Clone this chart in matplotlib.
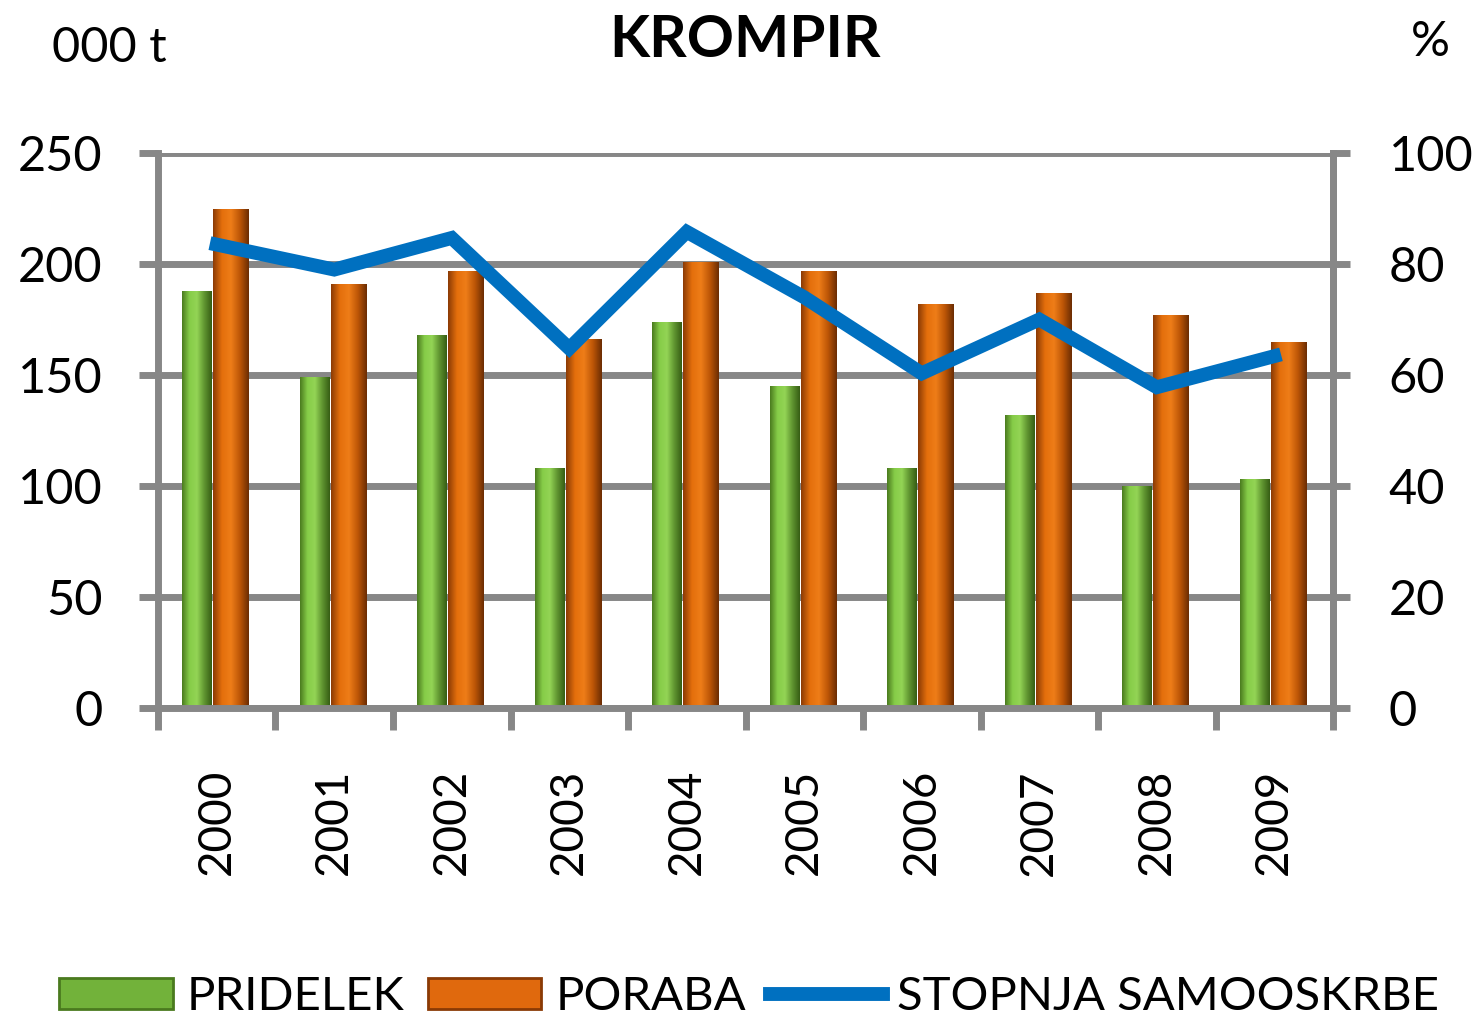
import numpy as np
import matplotlib
matplotlib.use("Agg")
import matplotlib.pyplot as plt
from matplotlib.colors import LinearSegmentedColormap
from matplotlib.patches import Patch
from matplotlib.lines import Line2D

plt.rcParams['font.family'] = ['Lato', 'DejaVu Sans']

years = ['2000', '2001', '2002', '2003', '2004', '2005', '2006', '2007', '2008', '2009']
pridelek = [188, 149, 168, 108, 174, 145, 108, 132, 100, 103]
poraba = [225, 191, 197, 166, 201, 197, 182, 187, 177, 165]
stopnja = [83.5, 79, 84.7, 64.8, 85.8, 74, 60.3, 70, 57.8, 63.4]

GRAY = '#878787'
BLUE = '#0070c0'

fig = plt.figure(figsize=(14.78, 10.21), dpi=100)
ax = fig.add_axes([0.1069, 0.3066, 0.7950, 0.5435])

x = np.arange(len(years))
green_cmap = LinearSegmentedColormap.from_list('g', ['#4a7a1e', '#86cc48', '#93d455', '#5f9430', '#365d14'])
orange_cmap = LinearSegmentedColormap.from_list('o', ['#8a3a05', '#e46f0c', '#ee7d18', '#bd5607', '#6a2c03'])
grad = np.linspace(0, 1, 256).reshape(1, -1)

bars_g = ax.bar(x - 0.17, pridelek, width=0.25, color='#72b23a', zorder=2)
bars_o = ax.bar(x + 0.12, poraba, width=0.30, color='#d9650c', zorder=2)
for bars, cmap in ((bars_g, green_cmap), (bars_o, orange_cmap)):
    for b in bars:
        x0, y0 = b.get_x(), b.get_y()
        w, h = b.get_width(), b.get_height()
        im = ax.imshow(grad, cmap=cmap, aspect='auto', extent=(x0, x0 + w, y0, y0 + h), zorder=2.5)
        im.set_clip_path(b)

ax.set_xlim(-0.5, len(years) - 0.5)
ax.set_ylim(0, 250)
ax.set_yticks(np.arange(0, 251, 50))
ax.set_axisbelow(True)
ax.grid(axis='y', color=GRAY, linewidth=5, zorder=0)
ax.set_xticks(x)
ax.set_xticklabels(years, rotation=90, va='top', ha='center', fontsize=33)
ax.set_xticks(np.arange(-0.5, len(years), 1), minor=True)
ax.tick_params(axis='x', which='major', length=0, pad=44)
ax.tick_params(axis='x', which='minor', length=16, width=5, color=GRAY, direction='out')
ax.tick_params(axis='y', length=14, width=5, color=GRAY, pad=26, labelsize=35)
for s in ['left', 'right', 'bottom']:
    ax.spines[s].set_color(GRAY)
    ax.spines[s].set_linewidth(5)
ax.spines['top'].set_visible(False)

ax2 = ax.twinx()
ax2.plot(x, stopnja, color=BLUE, linewidth=10, solid_joinstyle='miter', zorder=5)
ax2.set_ylim(0, 100)
ax2.set_yticks(np.arange(0, 101, 20))
ax2.tick_params(axis='y', length=12, width=5, color=GRAY, pad=28, labelsize=35)
for s in ['left', 'right', 'bottom', 'top']:
    ax2.spines[s].set_visible(False)
ax2.spines['right'].set_visible(True)
ax2.spines['right'].set_color(GRAY)
ax2.spines['right'].set_linewidth(5)

fig.text(0.504, 0.960, 'KROMPIR', fontsize=42, fontweight='bold', ha='center', va='center')
fig.text(0.035, 0.953, '000 t', fontsize=35, ha='left', va='center')
fig.text(0.968, 0.959, '%', fontsize=35, ha='center', va='center')

handles = [
    Patch(facecolor='#72b23a', edgecolor='#4a7a1e', linewidth=2),
    Patch(facecolor='#e0690d', edgecolor='#8a3a05', linewidth=2),
    Line2D([0], [0], color=BLUE, linewidth=10),
]
labels = ['PRIDELEK', 'PORABA', 'STOPNJA SAMOOSKRBE']
fig.legend(handles, labels, loc='center', bbox_to_anchor=(0.507, 0.0235), ncol=3,
           frameon=False, fontsize=34, handlelength=2.4, handleheight=0.62,
           handletextpad=0.3, columnspacing=0.5, borderaxespad=0)

fig.savefig('out.png', dpi=100)
